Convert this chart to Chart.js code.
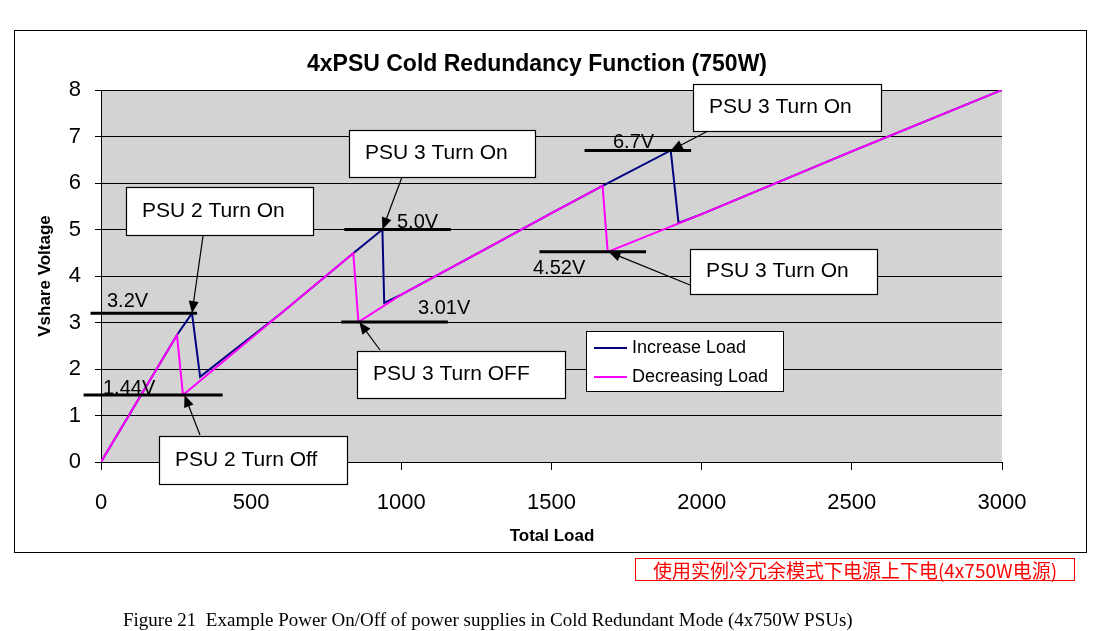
<!DOCTYPE html>
<html>
<head>
<meta charset="utf-8">
<script src="https://cdn.jsdelivr.net/npm/chart.js@4.4.1/dist/chart.umd.min.js"></script>
<style>
  body { margin: 0; background: #fff; width: 1103px; height: 631px; overflow: hidden; position: relative; font-family: "Liberation Sans", Arial, sans-serif; }
  #frame { position: absolute; left: 14px; top: 30px; width: 1071px; height: 521px; border: 1px solid #000; }
  canvas { position: absolute; left: 0; top: 0; }
  .red { position: absolute; left: 635px; top: 558px; width: 438px; height: 21px; border: 1px solid #f00; color: #f00; font: 19px "Noto Sans CJK SC", sans-serif; line-height: 21px; text-align: center; }
  .cap { position: absolute; left: 123px; top: 609px; font: 19px "Liberation Serif", serif; color: #000; }
</style>
</head>
<body>
<div id="frame"></div>
<canvas id="psuChart" width="1103" height="631"></canvas>
<div class="red">使用实例冷冗余模式下电源上下电(4x750W电源)</div>
<div class="cap">Figure 21&nbsp; Example Power On/Off of power supplies in Cold Redundant Mode (4x750W PSUs)</div>
<script>
// increasing load path (W, V)
const incLoad = [0, 253, 303, 330, 600, 840, 937, 943, 1000, 1300, 1500, 1670, 1897, 1923, 2000, 2500, 3000];
const incVolt = [0, 2.73, 3.2, 1.83, 3.2, 4.49, 5.0, 3.42, 3.6, 4.65, 5.35, 5.94, 6.7, 5.14, 5.33, 6.68, 8];
// decreasing load path
const decLoad = [3000, 2500, 2000, 1687, 1670, 1500, 1300, 1000, 857, 840, 600, 273, 253, 0];
const decVolt = [8, 6.68, 5.33, 4.52, 5.94, 5.35, 4.65, 3.6, 3.01, 4.49, 3.2, 1.44, 2.73, 0];
const xTicks = [0, 500, 1000, 1500, 2000, 2500, 3000];
const yTicks = [0, 1, 2, 3, 4, 5, 6, 7, 8];

// threshold markers: [fromLoad, toLoad, volt, label, labelX, labelY]
const levels = [
    [-35, 320, 3.2, "3.2V", 107, 301],
    [-58, 405, 1.44, "1.44V", 103, 388],
    [810, 1165, 5.0, "5.0V", 397, 222],
    [800, 1155, 3.01, "3.01V", 418, 308],
    [1610, 1965, 6.7, "6.7V", 613, 142],
    [1460, 1815, 4.52, "4.52V", 533, 268]
];
// callouts: [text, x, y, w, h, arrowFromX, arrowFromY, toLoad, toVolt]
const callouts = [
    ["PSU 2 Turn On", 126, 187, 187, 48, 203, 236, 303, 3.2],
    ["PSU 3 Turn On", 349, 130, 186, 47, 402, 177, 937, 5.0],
    ["PSU 3 Turn On", 693, 84, 188, 47, 708, 131, 1897, 6.7],
    ["PSU 3 Turn On", 690, 249, 187, 45, 690, 285, 1690, 4.52],
    ["PSU 3 Turn OFF", 357, 351, 208, 47, 380, 350, 860, 3.01],
    ["PSU 2 Turn Off", 159, 436, 188, 48, 200, 435, 278, 1.44]
];

const font = "Liberation Sans, Arial, sans-serif";

function arrow(ctx, x1, y1, x2, y2) {
    const a = Math.atan2(y2 - y1, x2 - x1);
    ctx.beginPath(); ctx.moveTo(x1, y1); ctx.lineTo(x2 - 8 * Math.cos(a), y2 - 8 * Math.sin(a)); ctx.stroke();
    ctx.beginPath();
    ctx.moveTo(x2, y2);
    ctx.lineTo(x2 - 12 * Math.cos(a) + 5 * Math.sin(a), y2 - 12 * Math.sin(a) - 5 * Math.cos(a));
    ctx.lineTo(x2 - 12 * Math.cos(a) - 5 * Math.sin(a), y2 - 12 * Math.sin(a) + 5 * Math.cos(a));
    ctx.closePath(); ctx.fill();
}

const decorPlugin = {
    id: "decor",
    beforeDraw(chart) {
        const { ctx, chartArea: a } = chart;
        ctx.save();
        ctx.fillStyle = "#d3d3d3";
        ctx.fillRect(a.left, a.top, a.right - a.left, a.bottom - a.top);
        ctx.restore();
    },
    afterDraw(chart) {
        const { ctx, scales: { x, y } } = chart;
        ctx.save();
        ctx.fillStyle = "#000"; ctx.strokeStyle = "#000";
        ctx.font = "bold 23px " + font; ctx.textAlign = "center"; ctx.textBaseline = "middle";
        ctx.fillText("4xPSU Cold Redundancy Function (750W)", 537, 65);
        ctx.font = "bold 17px " + font;
        ctx.fillText("Total Load", 552, 536);
        ctx.save(); ctx.translate(45, 276); ctx.rotate(-Math.PI / 2);
        ctx.fillText("Vshare Voltage", 0, 0); ctx.restore();

        ctx.font = "20px " + font; ctx.textAlign = "left";
        levels.forEach(l => {
            ctx.lineWidth = 3;
            ctx.beginPath();
            ctx.moveTo(x.getPixelForValue(l[0]), y.getPixelForValue(l[2]));
            ctx.lineTo(x.getPixelForValue(l[1]), y.getPixelForValue(l[2]));
            ctx.stroke();
            ctx.fillText(l[3], l[4], l[5]);
        });
        ctx.font = "21px " + font;
        callouts.forEach(c => {
            ctx.lineWidth = 1.2;
            arrow(ctx, c[5], c[6], x.getPixelForValue(c[7]), y.getPixelForValue(c[8]));
            ctx.fillStyle = "#fff";
            ctx.fillRect(c[1], c[2], c[3], c[4]);
            ctx.strokeRect(c[1] + 0.5, c[2] + 0.5, c[3], c[4]);
            ctx.fillStyle = "#000";
            ctx.fillText(c[0], c[1] + 16, c[2] + c[4] / 2);
        });
        // legend
        ctx.fillStyle = "#fff"; ctx.lineWidth = 1;
        ctx.fillRect(586, 331, 197, 60); ctx.strokeRect(586.5, 331.5, 197, 60);
        ctx.lineWidth = 2;
        ctx.strokeStyle = "#000080"; ctx.beginPath(); ctx.moveTo(594, 348); ctx.lineTo(627, 348); ctx.stroke();
        ctx.strokeStyle = "#ff00ff"; ctx.beginPath(); ctx.moveTo(594, 377); ctx.lineTo(627, 377); ctx.stroke();
        ctx.fillStyle = "#000"; ctx.font = "18px " + font;
        ctx.fillText("Increase Load", 632, 348);
        ctx.fillText("Decreasing Load", 632, 377);
        ctx.restore();
    }
};

const psuChart = new Chart(document.getElementById("psuChart").getContext("2d"), {
    type: "scatter",
    data: {
        datasets: [{
            label: "Increase Load",
            data: incLoad.map((v, i) => ({ x: v, y: incVolt[i] })),
            showLine: true, borderColor: "#000080", borderWidth: 2, pointRadius: 0, order: 2
        }, {
            label: "Decreasing Load",
            data: decLoad.map((v, i) => ({ x: v, y: decVolt[i] })),
            showLine: true, borderColor: "#ff00ff", borderWidth: 2, pointRadius: 0, order: 1
        }]
    },
    options: {
        responsive: false, animation: false,
        layout: { padding: { left: 30, right: 101, top: 90, bottom: 89 } },
        plugins: { legend: { display: false }, tooltip: { enabled: false } },
        scales: {
            x: {
                type: "linear", min: 0, max: 3000,
                afterFit: s => { s.height = 80; },
                afterBuildTicks: s => { s.ticks = xTicks.map(v => ({ value: v })); },
                grid: { drawOnChartArea: false, color: "#000", tickLength: 8 },
                border: { color: "#000" },
                ticks: { color: "#000", font: { size: 22, family: font }, padding: 20, callback: v => String(v) }
            },
            y: {
                min: 0, max: 8,
                afterFit: s => { s.width = 71; },
                afterBuildTicks: s => { s.ticks = yTicks.map(v => ({ value: v })); },
                grid: { color: "#000", tickLength: 6 },
                border: { color: "#000" },
                ticks: { color: "#000", font: { size: 22, family: font }, padding: 14, callback: v => String(v) }
            }
        }
    },
    plugins: [decorPlugin]
});
</script>
</body>
</html>
